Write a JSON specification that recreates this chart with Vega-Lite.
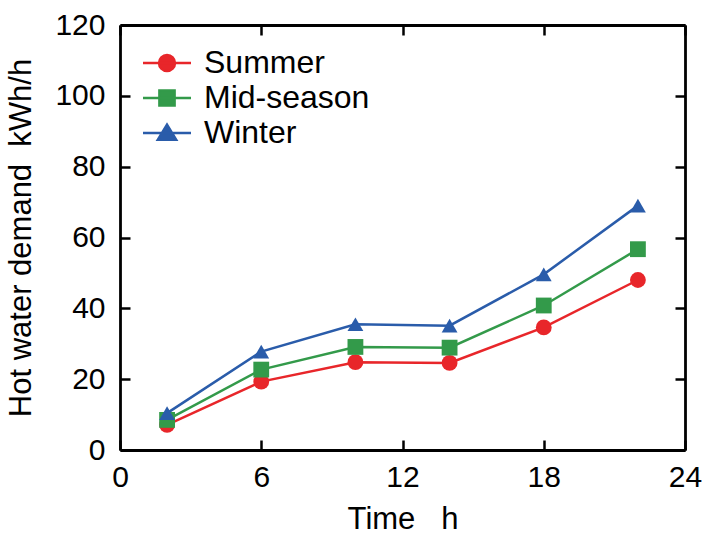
{
  "$schema": "https://vega.github.io/schema/vega-lite/v6.json",
  "width": 565,
  "height": 425,
  "autosize": {"type": "none"},
  "padding": {"left": 120, "top": 25, "right": 24, "bottom": 89},
  "background": "white",
  "config": {
    "font": "Liberation Sans",
    "view": {"stroke": null},
    "axis": {
      "domainColor": "black", "domainWidth": 2.8, "tickColor": "black", "tickWidth": 2.5,
      "tickSize": -10, "grid": false, "labelFlush": false, "labelFont": "Liberation Sans", "labelFontSize": 30,
      "labelColor": "black", "titleFont": "Liberation Sans", "titleFontSize": 30,
      "titleFontWeight": "normal", "titleColor": "black"
    }
  },
  "data": {
    "values": [
      {"time": 2, "demand": 7.1, "season": "Summer"},
      {"time": 6, "demand": 19.3, "season": "Summer"},
      {"time": 10, "demand": 24.8, "season": "Summer"},
      {"time": 14, "demand": 24.6, "season": "Summer"},
      {"time": 18, "demand": 34.6, "season": "Summer"},
      {"time": 22, "demand": 48.0, "season": "Summer"},
      {"time": 2, "demand": 8.5, "season": "Mid-season"},
      {"time": 6, "demand": 22.7, "season": "Mid-season"},
      {"time": 10, "demand": 29.1, "season": "Mid-season"},
      {"time": 14, "demand": 28.9, "season": "Mid-season"},
      {"time": 18, "demand": 40.8, "season": "Mid-season"},
      {"time": 22, "demand": 56.7, "season": "Mid-season"},
      {"time": 2, "demand": 10.4, "season": "Winter"},
      {"time": 6, "demand": 27.8, "season": "Winter"},
      {"time": 10, "demand": 35.5, "season": "Winter"},
      {"time": 14, "demand": 35.1, "season": "Winter"},
      {"time": 18, "demand": 49.6, "season": "Winter"},
      {"time": 22, "demand": 69.0, "season": "Winter"}
    ]
  },
  "layer": [
    {
      "mark": {"type": "line", "strokeWidth": 2.5},
      "encoding": {
        "x": {"field": "time", "type": "quantitative", "scale": {"domain": [0, 24]},
              "axis": {"values": [0, 6, 12, 18, 24], "title": "Time\u00a0\u00a0\u00a0h", "titlePadding": 12, "labelPadding": 22, "titleFontSize": 31}},
        "y": {"field": "demand", "type": "quantitative", "scale": {"domain": [0, 120]},
              "axis": {"values": [0, 20, 40, 60, 80, 100, 120], "title": "Hot water demand\u00a0\u00a0kWh/h", "titlePadding": 17, "labelPadding": 25, "titleFontSize": 31}},
        "color": {"field": "season", "type": "nominal",
                  "scale": {"domain": ["Summer", "Mid-season", "Winter"], "range": ["#e8262a", "#339a4a", "#2a5caa"]},
                  "legend": null},
        "detail": {"field": "season"}
      }
    },
    {
      "mark": {"type": "point", "filled": true, "opacity": 1, "size": 250},
      "encoding": {
        "x": {"field": "time", "type": "quantitative", "axis": {"orient": "top", "values": [0, 6, 12, 18, 24], "labels": false, "title": null}},
        "y": {"field": "demand", "type": "quantitative", "axis": {"orient": "right", "values": [0, 20, 40, 60, 80, 100, 120], "labels": false, "title": null}},
        "color": {"field": "season", "type": "nominal",
                  "scale": {"domain": ["Summer", "Mid-season", "Winter"], "range": ["#e8262a", "#339a4a", "#2a5caa"]},
                  "legend": null},
        "shape": {"field": "season", "type": "nominal",
                  "scale": {"domain": ["Summer", "Mid-season", "Winter"], "range": ["circle", "square", "triangle-up"]},
                  "legend": null}
      }
    },
    {
      "transform": [{"filter": "false"}],
      "mark": {"type": "point", "filled": true, "opacity": 1, "size": 256, "strokeWidth": 2.5},
      "encoding": {
        "x": {"field": "time", "type": "quantitative", "axis": null},
        "y": {"field": "demand", "type": "quantitative", "axis": null},
        "color": {"field": "season", "type": "nominal",
                  "scale": {"domain": ["Summer", "Mid-season", "Winter"], "range": ["#e8262a", "#339a4a", "#2a5caa"]},
                  "legend": {"title": null, "orient": "none", "legendX": 31, "legendY": 22, "padding": 0, "labelFontSize": 32, "labelFont": "Liberation Sans", "labelColor": "black", "labelLimit": 400, "symbolSize": 256, "rowPadding": 3, "labelOffset": 21, "symbolOpacity": 1, "symbolStrokeWidth": 2.5}},
        "stroke": {"field": "season", "type": "nominal",
                  "scale": {"domain": ["Summer", "Mid-season", "Winter"], "range": ["#e8262a", "#339a4a", "#2a5caa"]},
                  "legend": {"title": null, "orient": "none", "legendX": 31, "legendY": 22, "padding": 0, "labelFontSize": 32, "labelFont": "Liberation Sans", "labelColor": "black", "labelLimit": 400, "symbolSize": 256, "rowPadding": 3, "labelOffset": 21, "symbolOpacity": 1, "symbolStrokeWidth": 2.5}},
        "shape": {"field": "season", "type": "nominal",
                  "scale": {"domain": ["Summer", "Mid-season", "Winter"], "range": ["M-3,0H3M-1,0A1,1,0,1,0,1,0A1,1,0,1,0,-1,0Z", "M-3,0H3M-0.95,-0.95H0.95V0.95H-0.95Z", "M-3,0H3M0,-1.05L1.15,0.85H-1.15Z"]},
                  "legend": {"title": null, "orient": "none", "legendX": 31, "legendY": 22, "padding": 0, "labelFontSize": 32, "labelFont": "Liberation Sans", "labelColor": "black", "labelLimit": 400, "symbolSize": 256, "rowPadding": 3, "labelOffset": 21, "symbolOpacity": 1, "symbolStrokeWidth": 2.5}}
      }
    }
  ],
  "resolve": {"axis": {"x": "independent", "y": "independent"}, "scale": {"shape": "independent", "color": "independent", "stroke": "independent"}}
}
